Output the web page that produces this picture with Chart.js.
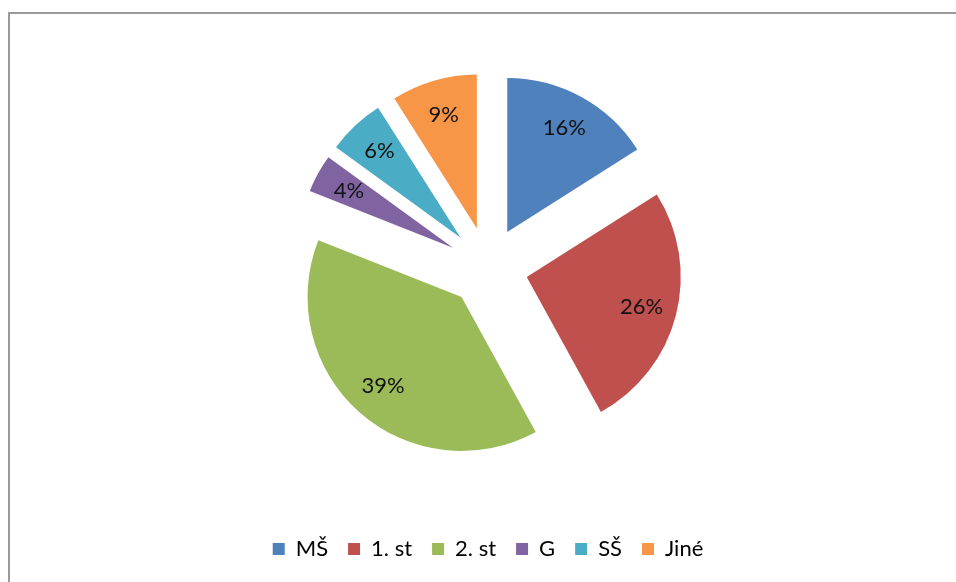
<!DOCTYPE html>
<html>
<head>
<meta charset="utf-8">
<script src="https://cdn.jsdelivr.net/npm/chart.js@4.4.1/dist/chart.umd.min.js"></script>
<style>
  html, body { margin: 0; padding: 0; background: #fff; overflow: hidden; }
  #wrap { position: relative; width: 956px; height: 582px; overflow: hidden; }
  .hline { position: absolute; left: 8px; top: 12px; width: 948px; height: 2px; background: #9a9a9a; }
  .vline { position: absolute; left: 8px; top: 12px; width: 2px; height: 570px; background: #9a9a9a; }
  #chart { position: absolute; left: 0; top: 0; }
</style>
</head>
<body>
<div id="wrap">
  <div class="hline"></div>
  <div class="vline"></div>
  <canvas id="chart" width="956" height="582"></canvas>
</div>
<script>
// podíly respondentů podle typu školy (v %)
const categories = ["MŠ", "1. st", "2. st", "G", "SŠ", "Jiné"];
const shares = [16, 26, 39, 4, 6, 9];
const sliceColors = ["#4F81BD", "#C0504D", "#9BBB59", "#8064A2", "#4BACC6", "#F79646"];

// vysunuté výseče (Excel styl) + popisky s procenty
const explodePlugin = {
  id: "explode",
  beforeDatasetDraw(chart, args, opts) {
    const ctx = chart.ctx;
    args.meta.data.forEach(arc => {
      const { startAngle, endAngle } = arc.getProps(["startAngle", "endAngle"]);
      const mid = (startAngle + endAngle) / 2;
      ctx.save();
      ctx.translate(Math.cos(mid) * opts.distance, Math.sin(mid) * opts.distance);
      arc.draw(ctx, chart.chartArea);
      ctx.restore();
    });
    return false;
  },
  afterDatasetsDraw(chart, args, opts) {
    const ctx = chart.ctx;
    const meta = chart.getDatasetMeta(0);
    const values = chart.data.datasets[0].data;
    const total = values.reduce((s, v) => s + v, 0);
    ctx.save();
    ctx.font = "22px Lato, 'Open Sans', sans-serif";
    ctx.fillStyle = "#111";
    ctx.textAlign = "center";
    ctx.textBaseline = "middle";
    meta.data.forEach((arc, i) => {
      const { x, y, startAngle, endAngle, outerRadius } =
        arc.getProps(["x", "y", "startAngle", "endAngle", "outerRadius"]);
      const mid = (startAngle + endAngle) / 2;
      const r = opts.distance + outerRadius * opts.labelRatio;
      ctx.fillText(Math.round(values[i] / total * 100) + "%",
        x + Math.cos(mid) * r, y + Math.sin(mid) * r);
    });
    ctx.restore();
  }
};

new Chart(document.getElementById("chart"), {
  type: "pie",
  data: {
    labels: categories,
    datasets: [{
      data: shares,
      backgroundColor: sliceColors,
      borderWidth: 0,
      radius: 154
    }]
  },
  options: {
    responsive: false,
    animation: false,
    layout: { padding: { left: 20, right: 0, top: 16, bottom: 12 } },
    plugins: {
      explode: { distance: 40, labelRatio: 0.77 },
      tooltip: { enabled: false },
      legend: {
        position: "bottom",
        labels: {
          boxWidth: 12,
          boxHeight: 12,
          padding: 20,
          color: "#000",
          font: { family: "Lato, 'Open Sans', sans-serif", size: 22 }
        }
      }
    }
  },
  plugins: [explodePlugin]
});
</script>
</body>
</html>
